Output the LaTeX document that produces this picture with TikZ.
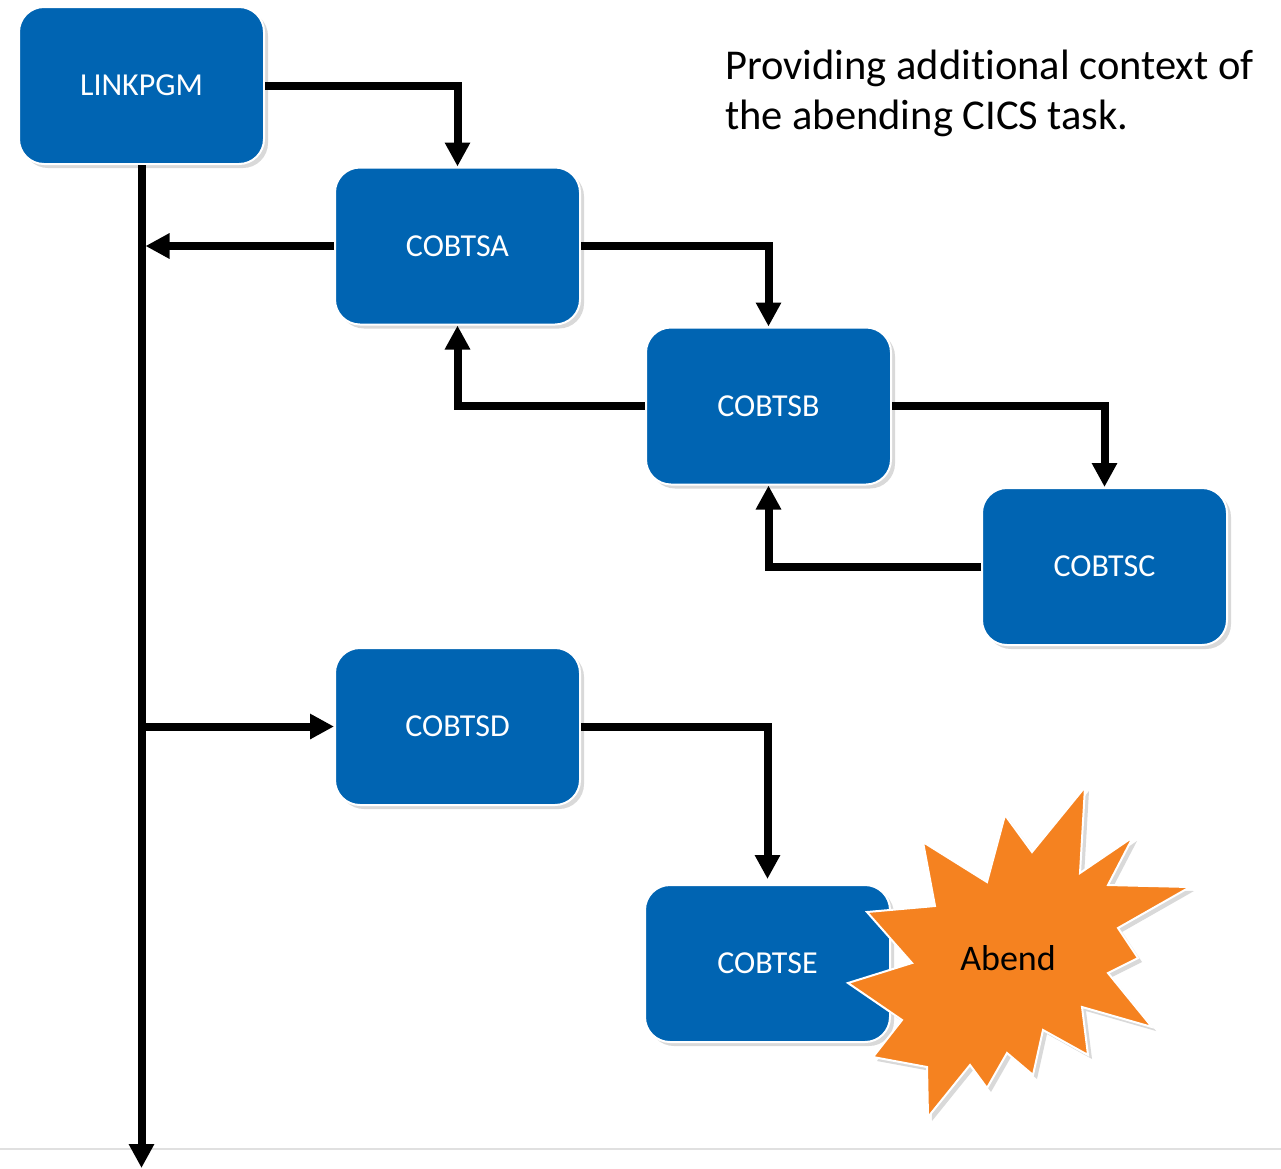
\documentclass[tikz,border=0pt]{standalone}
\usepackage{fontspec}
\setmainfont{Carlito}[Ligatures=CommonOff]
\usepackage{tikz}
\usetikzlibrary{positioning, arrows.meta, shadows}
\definecolor{boxblue}{RGB}{0,100,178}
\definecolor{burst}{RGB}{245,130,32}

\begin{document}
\begin{tikzpicture}[x=1pt, y=-1pt, on grid,
    box/.style = {draw=white, line width=2pt, fill=boxblue, rounded corners=25pt, minimum width=245pt, minimum height=157pt, text=white, font=\fontsize{32}{38}\selectfont, drop shadow={shadow xshift=4pt, shadow yshift=-4pt, opacity=0.3}},
    conn/.style = {line width=8pt, -{Triangle[length=24pt, width=24pt]}}]
                        \useasboundingbox (0,0) rectangle (1281,1168);
                        \draw[black!12, line width=1.5pt] (0,1149) -- (1281,1149);
                        \node[box] (linkpgm) at (141.5,85.5) {LINKPGM};
                        \node[box] (cobtsa) [below right=160.5pt and 316pt of linkpgm] {COBTSA};
                        \node[box] (cobtsb) [below right=160pt and 311pt of cobtsa] {COBTSB};
                        \node[box] (cobtsc) [below right=160.5pt and 336pt of cobtsb] {COBTSC};
                        \node[box] (cobtsd) [below=480.5pt of cobtsa] {COBTSD};
                        \node[box] (cobtse) [below right=237pt and 310pt of cobtsd] {COBTSE};
                        \node[anchor=base west, align=left, inner sep=0pt, font=\fontsize{42.5}{50}\selectfont] (note) at (725,129) {Providing additional context of\\the abending CICS task.};
                        \coordinate (trunkend) at (141.5,1168);
                        \draw[conn] (linkpgm.south) -- (trunkend);
                        \draw[conn] (linkpgm.east) -| (cobtsa.north);
                        \draw[conn, shorten >=4pt] (cobtsa.west) -- (cobtsa.west -| linkpgm.south);
                        \draw[conn] (cobtsa.east) -| (cobtsb.north);
                        \draw[conn] (cobtsb.west) -| (cobtsa.south);
                        \draw[conn] (cobtsb.east) -| (cobtsc.north);
                        \draw[conn] (cobtsc.west) -| (cobtsb.south);
                        \draw[conn] (cobtsd.west -| linkpgm.south) -- (cobtsd.west);
                        \draw[conn, shorten >=5pt] (cobtsd.east) -| (cobtse.north);
                        \draw[draw=white, line width=2pt, fill=burst, drop shadow={shadow xshift=4pt, shadow yshift=-4pt, opacity=0.3}, shift={(1008,958)}]
                            (77,-171) -- (72,-85) -- (125,-121) -- (100,-73) -- (182,-71) -- (110,-30) -- (130,0) -- (100,15)
                            -- (144,69) -- (74,49) -- (80,97) -- (35,72) -- (25,117) -- (-1,95) -- (-21,130) -- (-38,107)
                            -- (-80,159) -- (-81,109) -- (-135,99) -- (-106,62) -- (-160,25) -- (-96,5) -- (-141,-46) -- (-73,-52)
                            -- (-85,-116) -- (-21,-76) -- (-3,-143) -- (24,-106) -- cycle;
                        \node[font=\fontsize{36}{42}\selectfont] (abend) at (1008,958) {Abend};
                    \end{tikzpicture}
\end{document}
